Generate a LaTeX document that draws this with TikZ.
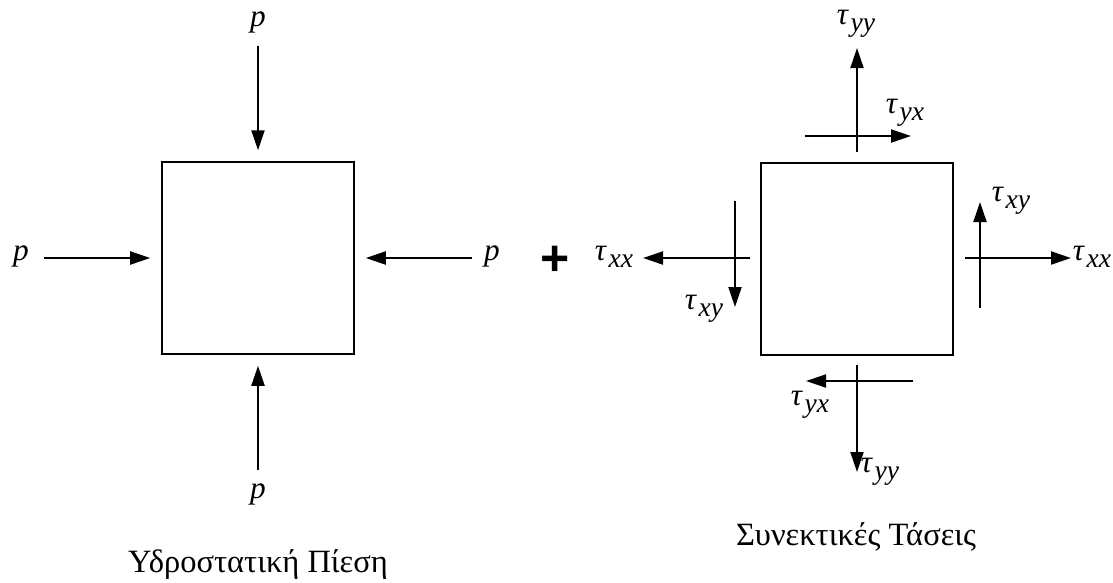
\documentclass[tikz,border=0pt]{standalone}
\usepackage{fontspec}
\setmainfont{Liberation Serif}
\setsansfont{Liberation Sans}
\usetikzlibrary{arrows.meta}
\tikzset{
    stress diagram/.style = {x=0.4pt, y=-0.4pt,
                             >={Triangle[length=8pt, width=5.2pt]}},
    element/.style        = {draw, line width=1pt, minimum size=76.8pt,
                             inner sep=0pt},
    force/.style          = {->, line width=0.8pt, shorten >=4.2pt},
    stress/.style         = {->, line width=0.8pt},
    lbl/.style            = {font=\fontsize{12.5}{14}\selectfont\itshape,
                             inner sep=0pt},
    caption/.style        = {font=\fontsize{13}{15}\selectfont, anchor=base},
    plus sign/.style      = {font=\sffamily\bfseries\fontsize{20}{20}\selectfont,
                             inner sep=0pt}
}
\newcommand{\tsub}[1]{τ\kern1pt\raisebox{-2.8pt}{\fontsize{11}{12}\selectfont #1}}

\begin{document}
\begin{tikzpicture}[stress diagram]
\useasboundingbox (0,0) rectangle (1113,582);

% Hydrostatic pressure on the element.
\node[element] (hydro) at (258,258) {};
\foreach \side/\x/\y/\lx/\ly in {
    north/258/46/258/22, west/44/258/21/256,
    east/472/258/492/256, south/258/470/258/494} {
    \node[lbl] (p-\side) at (\lx,\ly) {p};
    \coordinate (tail-\side) at (\x,\y);
    \draw[force] (tail-\side) -- (hydro.\side);
}
\node[caption] (hydro-caption) at (258,572) {Υδροστατική Πίεση};

\node[plus sign] (plus) at (555,261) {+};

% Viscous stresses on the element.
\node[element] (visc) at (857,259) {};
\foreach \name/\xa/\ya/\xb/\yb/\lx/\ly/\sub in {
    yy-top/857/152/857/48/856/24/yy,
    yx-top/805/136/911/136/905/113/yx,
    xx-left/750/258/643/258/614/257/xx,
    xy-left/735/201/735/307/704/309/xy,
    xx-right/965/258/1071/258/1092/257/xx,
    xy-right/980/308/980/202/1011/201/xy,
    yx-bottom/913/381/806/381/810/405/yx,
    yy-bottom/857/365/857/472/880/472/yy} {
    \coordinate (\name-tail) at (\xa,\ya);
    \coordinate (\name-tip) at (\xb,\yb);
    \draw[stress] (\name-tail) -- (\name-tip);
    \node[lbl] (tau-\name) at (\lx,\ly) {\tsub{\sub}};
}
\node[caption] (visc-caption) at (856,545) {Συνεκτικές Τάσεις};

\end{tikzpicture}
\end{document}
